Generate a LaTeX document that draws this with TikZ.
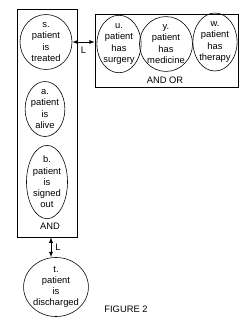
\documentclass[tikz,border=0pt]{standalone}
\usepackage{fontspec}
\setmainfont{Liberation Sans}
\usetikzlibrary{shapes,arrows,positioning,fit,calc}

\begin{document}
\begin{tikzpicture}[
    x=0.03cm, y=-0.03cm,
    state/.style={ellipse, draw, line width=0.5pt, inner sep=0pt, align=center, font=\fontsize{8}{9.6}\selectfont},
    group/.style={rectangle, draw, line width=0.6pt, inner sep=0pt},
    lbl/.style={font=\fontsize{8}{9.6}\selectfont},
    arrow/.style={<->, line width=0.6pt, >=latex},
]
    \useasboundingbox (0,0) rectangle (250,326);

    % AND group
    \node[group, minimum width=1.8cm, minimum height=6.84cm] (lbox) at (47,123) {};
    \node[state, minimum width=1.56cm, minimum height=1.23cm] (s) at (46,42) {s.\\patient\\is\\treated};
    \node[state, minimum width=1.11cm, minimum height=1.56cm] (a) at (45,109) {a.\\patient\\is\\alive};
    \node[state, minimum width=1.23cm, minimum height=1.8cm] (b) at (47,182) {b.\\patient\\is\\signed\\out};
    \node[lbl] (and) at (50,226) {AND};

    % AND OR group
    \node[group, minimum width=4.29cm, minimum height=2.19cm] (rbox) at (166.5,50.5) {};
    \node[state, minimum width=1.2cm, minimum height=1.62cm] (u) at (119,44) {u.\\patient\\has\\surgery};
    \node[state, minimum width=1.29cm, minimum height=1.44cm] (y) at (166,44) {y.\\patient\\has\\medicine};
    \node[state, minimum width=1.17cm, minimum height=1.74cm] (w) at (215,42) {w.\\patient\\has\\therapy};
    \node[lbl] (andor) at (165,80) {AND OR};

    % result
    \node[state, minimum width=1.8cm, minimum height=1.53cm] (t) at (56,287) {t.\\patient\\is\\discharged};

    % Arrows
    \draw[arrow] (s.east) -- (rbox.west |- s.east) node[lbl, midway, below=1pt] (l1) {L};
    \draw[arrow] ([xshift=0.12cm]lbox.south) -- ([xshift=0.12cm]lbox.south |- t.north) node[lbl, midway, right=0pt] (l2) {L};

    % caption
    \node[lbl] (cap) at (126,309) {FIGURE 2};
\end{tikzpicture}
\end{document}
